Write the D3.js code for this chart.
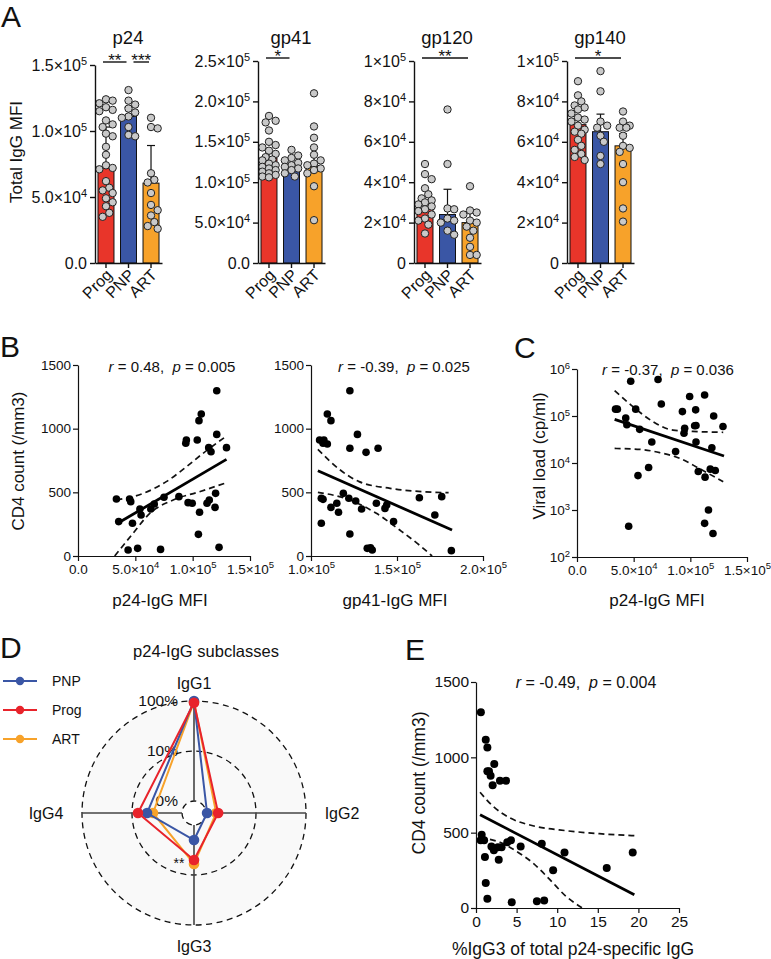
<!DOCTYPE html>
<html><head><meta charset="utf-8">
<script src="https://cdn.jsdelivr.net/npm/d3@7/dist/d3.min.js"></script>
<style>
body{margin:0;background:#fff}
svg{display:block}
text{font-family:"Liberation Sans",Arial,sans-serif;fill:#111}
</style>
</head><body>
<svg id="c" width="771" height="959"></svg>
<script>
// ---------------- DATA ----------------
const groups = ["Prog", "PNP", "ART"];
const groupColors = ["#E8352A", "#3A56A5", "#F7A22A"];

// Panel A: total IgG MFI per antigen
const p24Prog = [124000,123000,121000,118000,116000,115000,108000,105000,103000,98000,96000,88000,82000,74000,72000,71000,62000,57000,55000,53000,49000,46000,43000,38000,35000];
const p24PNP  = [131000,123000,120000,117000,114000,111000,110000,103000,97000,96000];
const p24ART  = [110000,103000,102000,68000,63000,61000,53000,44000,40000,36000,31000,28000,26000];
const p24Means = [72000,111000,60500];
const p24ErrTop = [103000,118000,89000];
const p24Ticks = [0,50000,100000,150000];
const p24TickLabels = ["0.0","5.0×10^4","1.0×10^5","1.5×10^5"];

const gp41Prog = [182000,176000,174000,164000,150000,146000,143000,139000,135000,131000,128000,127000,123000,121000,119000,117000,115000,113000,111000,109000,107000,106000];
const gp41PNP  = [140000,133000,130000,127000,124000,121000,119000,117000,115000,111000,107000];
const gp41ART  = [210000,169000,155000,143000,134000,127000,123000,121000,117000,115000,111000,95000,53000];
const gp41Means = [130000,118000,120000];
const gp41ErrTop = [137000,122000,144000];
const gp41Ticks = [0,50000,100000,150000,200000,250000];
const gp41TickLabels = ["0.0","5.0×10^4","1.0×10^5","1.5×10^5","2.0×10^5","2.5×10^5"];

const gp120Prog = [49000,44000,41500,37000,34000,32000,31000,30000,29000,28000,26600,25700,24000,22000,21000,19000,14600];
const gp120PNP  = [76000,49000,27000,26600,22000,21000,20000,16000,14000];
const gp120ART  = [38000,26000,25000,24000,21000,20000,18000,16000,12500,8000,4000,4000];
const gp120Means = [26600,24000,20000];
const gp120ErrTop = [30000,36500,25500];

const gp140Prog = [90000,83000,80000,78000,77000,76000,74000,72000,71000,70000,68000,66000,65000,64000,61000,58000,56000,54000,52500,51000];
const gp140PNP  = [95000,85000,70000,68000,67000,63000,60000,53000,49000];
const gp140ART  = [75000,70000,68000,67000,67000,63000,58000,57000,55000,49000,40000,27000,20500];
const gp140Means = [68500,65000,58000];
const gp140ErrTop = [72000,73700,64000];
const gpTicks = [0,20000,40000,60000,80000,100000];
const gpTickLabels = ["0","2×10^4","4×10^4","6×10^4","8×10^4","1×10^5"];

const p24Sig = [[0,1,"**"],[1,2,"***"]];
const gp41Sig = [[0,1,"*"]];
const gp120Sig = [[0,2,"**"]];
const gp140Sig = [[0,2,"*"]];

// Panel B left: p24-IgG MFI vs CD4 count
const b1X = [33500,35500,45000,46000,47500,54000,55000,63500,66500,75000,88000,94000,94500,96000,99600,104000,105500,107500,106000,105000,112500,114000,116000,114500,119500,120000,121000,121000,123000,129500,43700,52000,72000];
const b1Y = [448,270,448,427,257,369,322,369,408,461,466,885,911,419,414,911,1063,1115,343,170,414,851,819,440,382,492,1298,955,68,851,47,60,52];
const b1FitX = [33500,129500], b1FitY = [251,759];
const b1UpX = [33500,57000,77000,94600,109000,129500], b1UpY = [440,492,584,701,806,942];
const b1LoX = [32000,48000,62600,83000,106000,129500], b1LoY = [0,178,335,440,505,576];

// Panel B right: gp41-IgG MFI vs CD4 count
const b2X = [105000,107500,109500,107000,109500,111600,122600,127000,122600,132000,139000,106000,107000,106000,111600,115000,116000,118800,122000,126000,129400,122600,138000,143000,144000,148000,163000,172000,176000,132700,134600,135600,181600];
const b2Y = [911,911,880,885,1115,1063,1298,955,846,814,846,453,445,257,382,414,343,492,453,432,369,173,414,374,400,270,458,322,466,60,65,47,42];
const b2FitX = [104000,182000], b2FitY = [670,204];
const b2UpX = [104000,117000,128000,146000,165000,180000], b2UpY = [838,675,584,531,505,497];
const b2LoX = [104000,122600,138000,151600,163000,170400], b2LoY = [500,440,335,204,86,0];

// Panel C: p24-IgG MFI vs viral load
const cX = [34000,35600,43000,44000,47400,51800,55300,53800,63200,66000,71500,74400,45600,87000,93000,95000,94400,99400,104700,103800,105000,105000,107000,112600,113000,116000,112600,120000,117600,122000,119000,120600,128800];
const cY = [140000,140000,91000,65000,550000,140000,52000,5400,8000,28000,600000,180000,450,17500,124000,55000,43000,260000,135000,62000,63000,28000,6600,280000,5000,1000,520,316,7400,6900,21000,100000,60000];
const cFitX = [33200,129700], cFitY = [85000,14100];
const cUpX = [33200,49400,67000,84700,102000,129000], cUpY = [347000,158000,76000,50000,47000,45000];
const cLoX = [33200,55300,73000,90600,108000,129000], cLoY = [20400,19500,16600,12600,7600,4000];

// Panel D: p24-IgG subclasses (% of total)
const subclasses = ["IgG1","IgG2","IgG3","IgG4"];
const radarPNP  = [100, 1.05, 2.0, 5.0];
const radarProg = [92, 1.75, 5.0, 7.6];
const radarART  = [96, 1.6, 6.0, 3.8];
const radarLegend = ["PNP","Prog","ART"];
const radarTicks = [1,10,100];
const radarTickLabels = ["0%","10%","100%"];

// Panel E: %IgG3 vs CD4 count
const eX = [0.6,1.2,1.4,1.4,1.6,1.8,2.25,2.05,2.95,3.7,0.7,0.57,1.0,1.1,1.9,2.2,2.7,2.8,3.15,3.85,4.3,5.5,8.1,1.2,1.4,4.4,7.5,8.4,9.5,10.9,16.1,19.3];
const eY = [1299,1117,1066,907,907,878,956,814,845,845,487,449,449,338,409,383,403,321,403,436,449,409,427,166,62,38,44,49,250,369,265,369];
const eFitX = [0.5,19.5], eFitY = [619,88];
const eUpX = [0.5,2.1,4.2,7.0,11.1,15.2,19.5], eUpY = [768,675,597,546,513,493,480];
const eLoX = [0.5,2.95,5.0,7.0,9.1,11.1,13.1], eLoY = [465,436,376,299,188,77,0];

const cd4Ticks = [0,500,1000,1500];
const mfiTicks = [0,50000,100000,150000];
const mfiTickLabels = ["0.0","5.0×10^4","1.0×10^5","1.5×10^5"];
const gp41xTicks = [100000,150000,200000];
const gp41xTickLabels = ["1.0×10^5","1.5×10^5","2.0×10^5"];
const vlTicks = [100,1000,10000,100000,1000000];
const vlTickLabels = ["10^2","10^3","10^4","10^5","10^6"];
const eXTicks = [0,5,10,15,20,25];

// ---------------- DRAW ----------------
const svg = d3.select("#c");
const NB = "\u00A0";

function supText(sel, supSize){
  sel.each(function(){
    const t = d3.select(this);
    const s = t.text();
    t.text(null);
    const parts = s.split("^");
    t.append("tspan").text(parts[0]);
    if (parts.length > 1) t.append("tspan").attr("dy","-0.55em").style("font-size", supSize + "px").text(parts[1]);
  });
}
function styleAxis(g, fs, sw){
  g.select(".domain").attr("stroke","#111").attr("stroke-width",sw);
  g.selectAll(".tick line").attr("stroke","#111").attr("stroke-width",sw);
  g.selectAll(".tick text").style("font-size",fs+"px").attr("fill","#111");
}
function panelLetter(t,x,y){
  svg.append("text").attr("x",x).attr("y",y).style("font-size","30px").text(t);
}

// ---- Panel A ----
panelLetter("A",1,27);
svg.append("text").attr("transform","translate(22,152) rotate(-90)").attr("text-anchor","middle")
  .style("font-size","17px").text("Total IgG MFI");

const panelA = [
  {title:"p24", x0:95, top:65, max:150000, ticks:p24Ticks, labels:p24TickLabels, vals:[p24Prog,p24PNP,p24ART], means:p24Means, err:p24ErrTop, sig:p24Sig},
  {title:"gp41", x0:258, top:61, max:250000, ticks:gp41Ticks, labels:gp41TickLabels, vals:[gp41Prog,gp41PNP,gp41ART], means:gp41Means, err:gp41ErrTop, sig:gp41Sig},
  {title:"gp120", x0:414, top:61, max:100000, ticks:gpTicks, labels:gpTickLabels, vals:[gp120Prog,gp120PNP,gp120ART], means:gp120Means, err:gp120ErrTop, sig:gp120Sig},
  {title:"gp140", x0:567, top:61, max:100000, ticks:gpTicks, labels:gpTickLabels, vals:[gp140Prog,gp140PNP,gp140ART], means:gp140Means, err:gp140ErrTop, sig:gp140Sig}
];
const A_BASE = 263, A_W = 67, DOT_R = 3.7;

function swarm(vals, y, r, maxOff){
  const pts = vals.map(v => ({v, py:y(v)})).sort((a,b) => a.py - b.py);
  const placed = [];
  const step = r * 0.9;
  pts.forEach(p => {
    const cands = [0];
    for (let k = 1; k * step <= maxOff; k++) cands.push(k*step, -k*step);
    let best = null, bestOv = Infinity;
    for (const c of cands){
      let ov = 0;
      placed.forEach(q => { const d = Math.hypot(q.dx - c, q.py - p.py); if (d < 2*r*0.92) ov += (2*r*0.92 - d); });
      if (ov === 0){ best = c; break; }
      if (ov < bestOv){ bestOv = ov; best = c; }
    }
    p.dx = best; placed.push(p);
  });
  return pts;
}

panelA.forEach(p => {
  const g = svg.append("g");
  const y = d3.scaleLinear().domain([0,p.max]).range([A_BASE,p.top]);
  const x = d3.scaleBand().domain(groups).range([p.x0, p.x0 + A_W]).paddingInner(0.29).paddingOuter(0.133);
  const cx = (i) => x(groups[i]) + x.bandwidth()/2;

  g.selectAll("rect.bar").data(groups).join("rect").attr("class","bar")
    .attr("x", d => x(d)).attr("width", x.bandwidth())
    .attr("y", (d,i) => y(p.means[i])).attr("height", (d,i) => A_BASE - y(p.means[i]))
    .attr("fill", (d,i) => groupColors[i]).attr("stroke","#111").attr("stroke-width",1);

  groups.forEach((d,i) => {
    g.append("line").attr("x1",cx(i)).attr("x2",cx(i)).attr("y1",y(p.means[i])).attr("y2",y(p.err[i])).attr("stroke","#111").attr("stroke-width",1.2);
    g.append("line").attr("x1",cx(i)-4).attr("x2",cx(i)+4).attr("y1",y(p.err[i])).attr("y2",y(p.err[i])).attr("stroke","#111").attr("stroke-width",1.2);
  });

  p.vals.forEach((vals,i) => {
    const pts = swarm(vals, y, DOT_R, 8);
    g.selectAll(null).data(pts).join("circle")
      .attr("cx", d => cx(i) + d.dx).attr("cy", d => d.py).attr("r", DOT_R)
      .attr("fill","#c9c9c9").attr("stroke","#222").attr("stroke-width",1);
  });

  const ya = g.append("g").attr("transform",`translate(${p.x0},0)`)
    .call(d3.axisLeft(y).tickValues(p.ticks).tickSize(5).tickSizeOuter(0).tickPadding(3).tickFormat((d,i) => p.labels[i]));
  styleAxis(ya, 16, 1.4);
  supText(ya.selectAll(".tick text"), 11);

  const xa = g.append("g").attr("transform",`translate(0,${A_BASE})`)
    .call(d3.axisBottom(x).tickSize(5).tickSizeOuter(0));
  styleAxis(xa, 16, 1.4);
  xa.selectAll(".tick text").attr("x",0).attr("y",0).attr("dy",null)
    .attr("transform","translate(7,13) rotate(-45)").style("text-anchor","end");

  g.append("text").attr("x", p.x0 + A_W/2 - 0.5).attr("y", 44).attr("text-anchor","middle").style("font-size","18.5px").text(p.title);

  const ly = p.top - 3;
  p.sig.forEach(s => {
    const touched = p.sig.some(o => o !== s && o[1] === s[0]);
    const x1 = cx(s[0]) - 3 + (touched ? 8 : 0);
    const x2 = cx(s[1]) - 2;
    g.append("line").attr("x1",x1).attr("x2",x2).attr("y1",ly).attr("y2",ly).attr("stroke","#111").attr("stroke-width",1.4);
    g.append("text").attr("x",(x1+x2)/2).attr("y",ly+4).attr("text-anchor","middle").style("font-size","17px").text(s[2]);
  });
});

// ---- scatter panels ----
function scatter(cfg){
  const g = svg.append("g");
  const x = cfg.x, y = cfg.y;
  const curve = d3.line().x(d => x(d[0])).y(d => y(d[1])).curve(d3.curveMonotoneX);
  [[cfg.upX,cfg.upY],[cfg.loX,cfg.loY]].forEach(b => {
    g.append("path").datum(d3.zip(b[0],b[1])).attr("d",curve)
      .attr("fill","none").attr("stroke","#111").attr("stroke-width",1.7).attr("stroke-dasharray","6,4");
  });
  g.append("path").datum(d3.zip(cfg.fitX,cfg.fitY)).attr("d",d3.line().x(d=>x(d[0])).y(d=>y(d[1])))
    .attr("fill","none").attr("stroke","#000").attr("stroke-width",2.8);
  g.selectAll(null).data(d3.zip(cfg.xs,cfg.ys)).join("circle")
    .attr("cx", d => x(d[0])).attr("cy", d => y(d[1])).attr("r", cfg.r || 3.8).attr("fill","#000");

  const ya = g.append("g").attr("transform",`translate(${x.range()[0]},0)`)
    .call(d3.axisLeft(y).tickValues(cfg.yTicks).tickSize(5).tickSizeOuter(0).tickPadding(2)
      .tickFormat((d,i) => cfg.yLabels ? cfg.yLabels[i] : d));
  styleAxis(ya, cfg.fs, 1.2);
  if (cfg.yLabels) supText(ya.selectAll(".tick text"), 9.5);
  const xa = g.append("g").attr("transform",`translate(0,${y.range()[0]})`)
    .call(d3.axisBottom(x).tickValues(cfg.xTicks).tickSize(5).tickSizeOuter(0).tickPadding(3)
      .tickFormat((d,i) => cfg.xLabels ? cfg.xLabels[i] : d));
  styleAxis(xa, cfg.fs, 1.2);
  if (cfg.xLabels) supText(xa.selectAll(".tick text"), 9.5);

  const an = g.append("text").attr("x",cfg.annX).attr("y",cfg.annY).attr("text-anchor","middle").style("font-size",cfg.annFs+"px");
  an.append("tspan").style("font-style","italic").text("r");
  an.append("tspan").text(NB + "=" + NB + cfg.r_ + "," + NB + NB);
  an.append("tspan").style("font-style","italic").text("p");
  an.append("tspan").text(NB + "=" + NB + cfg.p_);

  if (cfg.yTitle) g.append("text").attr("transform",`translate(${cfg.yTitleX},${cfg.yTitleY}) rotate(-90)`)
    .attr("text-anchor","middle").style("font-size",cfg.titleFs+"px").text(cfg.yTitle);
  g.append("text").attr("x",cfg.xTitleX).attr("y",cfg.xTitleY).attr("text-anchor","middle")
    .style("font-size",cfg.titleFs+"px").text(cfg.xTitle);
}

panelLetter("B",0,357);
scatter({
  x:d3.scaleLinear().domain([0,150000]).range([78,250]), y:d3.scaleLinear().domain([0,1500]).range([556,365]),
  xs:b1X, ys:b1Y, fitX:b1FitX, fitY:b1FitY, upX:b1UpX, upY:b1UpY, loX:b1LoX, loY:b1LoY,
  yTicks:cd4Ticks, xTicks:mfiTicks, xLabels:mfiTickLabels, fs:13.5,
  annX:172, annY:372, annFs:15, r_:"0.48", p_:"0.005",
  yTitle:"CD4 count (/mm3)", yTitleX:24, yTitleY:461, xTitle:"p24-IgG MFI", xTitleX:160, xTitleY:606, titleFs:17
});
scatter({
  x:d3.scaleLinear().domain([100000,200000]).range([311,483]), y:d3.scaleLinear().domain([0,1500]).range([556,365]),
  xs:b2X, ys:b2Y, fitX:b2FitX, fitY:b2FitY, upX:b2UpX, upY:b2UpY, loX:b2LoX, loY:b2LoY,
  yTicks:cd4Ticks, xTicks:gp41xTicks, xLabels:gp41xTickLabels, fs:13.5,
  annX:404, annY:372, annFs:15, r_:"-0.39", p_:"0.025",
  xTitle:"gp41-IgG MFI", xTitleX:395, xTitleY:606, titleFs:17
});
panelLetter("C",514,358);
scatter({
  x:d3.scaleLinear().domain([0,150000]).range([577,747]), y:d3.scaleLog().domain([100,1000000]).range([557,369]),
  xs:cX, ys:cY, fitX:cFitX, fitY:cFitY, upX:cUpX, upY:cUpY, loX:cLoX, loY:cLoY,
  yTicks:vlTicks, yLabels:vlTickLabels, xTicks:mfiTicks, xLabels:mfiTickLabels, fs:13.5,
  annX:668, annY:375, annFs:15, r_:"-0.37", p_:"0.036",
  yTitle:"Viral load (cp/ml)", yTitleX:545, yTitleY:456, xTitle:"p24-IgG MFI", xTitleX:657, xTitleY:606, titleFs:17
});
panelLetter("E",405,660);
scatter({
  x:d3.scaleLinear().domain([0,25]).range([476,679]), y:d3.scaleLinear().domain([0,1500]).range([908,682]),
  xs:eX, ys:eY, fitX:eFitX, fitY:eFitY, upX:eUpX, upY:eUpY, loX:eLoX, loY:eLoY, r:4,
  yTicks:cd4Ticks, xTicks:eXTicks, fs:15.5,
  annX:586, annY:688, annFs:16, r_:"-0.49", p_:"0.004",
  yTitle:"CD4 count (/mm3)", yTitleX:425, yTitleY:783, xTitle:"%IgG3 of total p24-specific IgG", xTitleX:573, xTitleY:955, titleFs:17.5
});

// ---- Panel D: radar ----
panelLetter("D",0,658);
(function(){
  const g = svg.append("g");
  const cx = 194, cy = 813;
  const rS = d3.scaleLog().domain([1,100]).range([12,112]);
  const ang = (i) => i * Math.PI / 2;
  const pt = (v,i) => [cx + rS(v) * Math.sin(ang(i)), cy - rS(v) * Math.cos(ang(i))];

  g.append("circle").attr("cx",cx).attr("cy",cy).attr("r",rS(100)).attr("fill","#f9f9f9");
  g.append("circle").attr("cx",cx).attr("cy",cy).attr("r",rS(1)).attr("fill","#fff");
  radarTicks.forEach(t => g.append("circle").attr("cx",cx).attr("cy",cy).attr("r",rS(t))
    .attr("fill","none").attr("stroke","#111").attr("stroke-width",1.3).attr("stroke-dasharray","6,4.5"));
  subclasses.forEach((s,i) => {
    const a = pt(1,i), b = pt(100,i);
    g.append("line").attr("x1",a[0]).attr("y1",a[1]).attr("x2",b[0]).attr("y2",b[1]).attr("stroke","#444").attr("stroke-width",1.6);
  });
  radarTicks.forEach((t,i) => g.append("text").attr("x",cx-16).attr("y",cy - rS(t)).attr("dy","0.35em")
    .attr("text-anchor","end").style("font-size","15.5px").text(radarTickLabels[i]));

  const labelOff = [[0,-130],[148,0],[0,133],[-148,0]];
  subclasses.forEach((s,i) => g.append("text").attr("x",cx+labelOff[i][0]).attr("y",cy+labelOff[i][1]).attr("dy","0.35em")
    .attr("text-anchor","middle").style("font-size","16px").text(s));

  const series = [
    {name:"ART", vals:radarART, col:groupColors[2]},
    {name:"PNP", vals:radarPNP, col:groupColors[1]},
    {name:"Prog", vals:radarProg, col:"#E8232B"}
  ];
  series.forEach(s => {
    const pts = s.vals.map((v,i) => pt(v,i));
    g.append("path").datum(pts).attr("d", d3.line().curve(d3.curveLinearClosed))
      .attr("fill","none").attr("stroke",s.col).attr("stroke-width",2);
    g.selectAll(null).data(pts).join("circle").attr("cx",d=>d[0]).attr("cy",d=>d[1]).attr("r",5.3).attr("fill",s.col);
  });
  g.append("text").attr("x",179).attr("y",868).attr("text-anchor","middle").style("font-size","14px").text("**");

  g.append("text").attr("x",206).attr("y",657).attr("text-anchor","middle").style("font-size","16.5px").text("p24-IgG subclasses");

  const legCols = {PNP:groupColors[1], Prog:"#E8232B", ART:groupColors[2]};
  radarLegend.forEach((n,i) => {
    const ly = 681 + i * 29;
    g.append("line").attr("x1",3).attr("x2",37).attr("y1",ly).attr("y2",ly).attr("stroke",legCols[n]).attr("stroke-width",1.8);
    g.append("circle").attr("cx",20).attr("cy",ly).attr("r",4.2).attr("fill",legCols[n]);
    g.append("text").attr("x",52).attr("y",ly).attr("dy","0.35em").style("font-size","14px").text(n);
  });
})();
</script>
</body></html>
